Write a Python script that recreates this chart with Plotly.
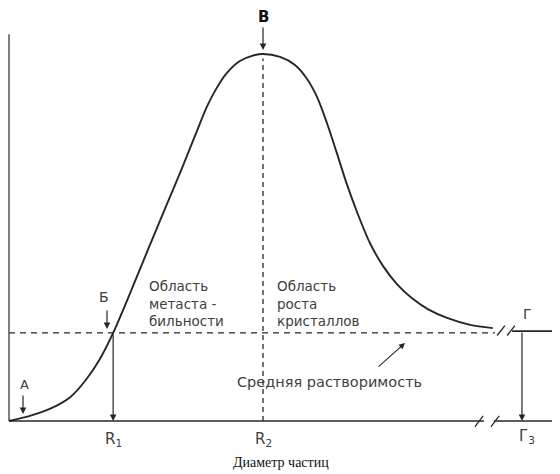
import plotly.graph_objects as go

# ---------------- data (arbitrary units: particle diameter, supersaturation) -------------
diameter = [0, 3.8, 7.4, 11.1, 13.8, 16.5, 18.9, 22.0, 25.2, 28.3, 31.4, 34.1, 35.9,
            37.6, 39.4, 41.9, 44.1, 46.1, 49.2, 51.9, 54.1, 55.9, 57.7, 59.5, 61.3,
            63.3, 65.5, 67.9, 70.4, 73.1, 76.0, 79.5, 83.7, 87.8]
supersaturation = [0, 1.4, 3.3, 6.5, 10.9, 16.9, 24.0, 34.9, 46.6, 57.8, 68.9, 79.0, 85.6,
                   90.5, 94.6, 98.1, 99.5, 100, 99.2, 97.0, 93.2, 88.3, 81.2, 73.0, 64.6,
                   56.4, 48.5, 42.2, 37.3, 33.5, 30.5, 28.1, 26.2, 25.3]
solubility = 24.0          # средняя растворимость (level of point Б)
plateau = 24.5             # level of the curve far right (point Г)
r1, r2, r3 = 18.9, 46.1, 93.1
axis_top = 105.4
x_max = 100.0
axis_break = (86.2, 88.0)   # gap in the diameter axis
curve_break = (88.2, 91.3)  # gap in the curve

point_labels = ["А", "Б", "В", "Г"]
region_left = ["Область", "метаста -", "бильности"]
region_right = ["Область", "роста", "кристаллов"]
solubility_label = "Средняя растворимость"
x_title = "Диаметр частиц"

# ---------------- layout helpers --------------------------------------------------------
PAGE_W, PAGE_H = 560, 474
BODY = 8                      # default page margin around the plot div
W, H = PAGE_W - BODY, PAGE_H - BODY
SX, SY = 5.51, 3.67           # pixels per unit


def X(px):   # page pixel -> data x
    return (px - 9) / SX


def Y(py):   # page pixel -> data y
    return (421 - py) / SY


INK = "#262626"
TXT = "#404040"
SANS = "DejaVu Sans"

fig = go.Figure()

# axes
fig.add_trace(go.Scatter(x=[0, 0], y=[axis_top, 0], mode="lines",
                         line=dict(color="#555", width=1.5), hoverinfo="skip"))
fig.add_trace(go.Scatter(x=[0, axis_break[0]], y=[0, 0], mode="lines",
                         line=dict(color=INK, width=1.6), hoverinfo="skip"))
fig.add_trace(go.Scatter(x=[axis_break[1], x_max], y=[0, 0], mode="lines",
                         line=dict(color=INK, width=1.6), hoverinfo="skip"))

# dashed helper lines
fig.add_trace(go.Scatter(x=[0, curve_break[0]], y=[solubility, solubility], mode="lines",
                         line=dict(color=INK, width=1.4, dash="6px,5px"), hoverinfo="skip"))
fig.add_trace(go.Scatter(x=[r2, r2], y=[0, 98.8], mode="lines",
                         line=dict(color=INK, width=1.3, dash="5px,4px"), hoverinfo="skip"))

# main curve
fig.add_trace(go.Scatter(x=diameter, y=supersaturation, mode="lines",
                         line=dict(color=INK, width=1.9, shape="spline", smoothing=0.8),
                         hoverinfo="skip"))
# continuation after the break
fig.add_trace(go.Scatter(x=[curve_break[1], x_max], y=[plateau, plateau], mode="lines",
                         line=dict(color=INK, width=1.6), hoverinfo="skip"))

# break marks
for bx in (X(479), X(495)):
    fig.add_shape(type="line", x0=bx - 0.75, y0=-1.6, x1=bx + 0.75, y1=1.4,
                  line=dict(color=INK, width=1.3))
for bx in (X(501), X(511)):
    fig.add_shape(type="line", x0=bx - 0.7, y0=plateau - 1.2, x1=bx + 0.7, y1=plateau + 1.5,
                  line=dict(color=INK, width=1.3))

ann = []


def arrow(hx, hy, tx, ty, w=1.2):
    ann.append(dict(x=hx, y=hy, ax=tx, ay=ty, xref="x", yref="y", axref="x", ayref="y",
                    text="", showarrow=True, arrowhead=2, arrowsize=1.1, arrowwidth=w,
                    arrowcolor=INK, standoff=0))


def label(x, y, text, size=13, color=TXT, family=SANS, xanchor="center", align="center"):
    ann.append(dict(x=x, y=y, xref="x", yref="y", text=text, showarrow=False,
                    xanchor=xanchor, yanchor="middle", align=align,
                    font=dict(family=family, size=size, color=color)))


# vertical arrows to the axis
arrow(r1, 0, r1, solubility)
arrow(r3, 0, r3, plateau)

# point markers
arrow(X(23), Y(414), X(23), Y(394))
label(X(24), Y(384), point_labels[0], size=13)
arrow(X(107), Y(329), X(107), Y(309))
label(X(104), Y(297), point_labels[1], size=14)
arrow(r2, Y(50), r2, Y(26))
label(r2, Y(17), "<b>" + point_labels[2] + "</b>", size=15, color="#111")
label(X(527), Y(314), point_labels[3], size=14)

# region texts
label(X(147), Y(303), "<br>".join(region_left), size=13.5, xanchor="left", align="left")
label(X(275), Y(303), "<br>".join(region_right), size=13.5, xanchor="left", align="left")

# solubility label with pointer
label(X(235), Y(382), solubility_label, size=14.5, xanchor="left")
arrow(X(405), Y(343), X(377), Y(368), w=1.1)

# axis labels
label(r1, Y(439), "R<sub>1</sub>", size=15)
label(r2, Y(439), "R<sub>2</sub>", size=15)
label(r3 + 0.9, Y(436), "Г<sub>3</sub>", size=15)
label(X(281), Y(462), x_title, size=14, color="#111", family="Liberation Serif")

fig.update_layout(
    width=W, height=H,
    margin=dict(l=0, r=0, t=0, b=0),
    paper_bgcolor="white", plot_bgcolor="white",
    showlegend=False,
    xaxis=dict(range=[X(BODY), X(PAGE_W)], visible=False, fixedrange=True),
    yaxis=dict(range=[Y(PAGE_H), Y(BODY)], visible=False, fixedrange=True),
    annotations=ann,
)

fig.write_html("out.html")
